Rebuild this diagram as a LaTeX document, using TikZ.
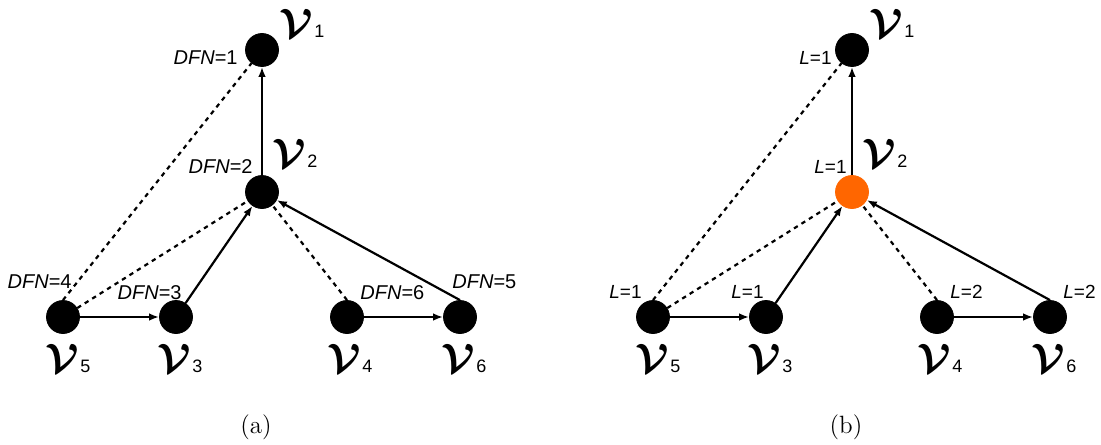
\documentclass[tikz,border=0pt]{standalone}
\usepackage{fontspec}
\usepackage{amsmath}
\setsansfont{Liberation Sans}
\usetikzlibrary{arrows.meta}
\definecolor{visited}{HTML}{FF6600}
\newcommand{\vname}[1]{\scalebox{2.05}{$\boldsymbol{\mathcal{V}}$}\hspace{0.6pt}{\sffamily\fontsize{9}{10}\selectfont #1}}
\newcommand{\vcol}{black}
\begin{document}
\begin{tikzpicture}[x=0.5pt, y=-0.5pt]
    \tikzstyle{every node}=[inner sep=0pt]
    \tikzstyle{vertex}=[circle, fill=black, draw=black!60, line width=0.4pt, minimum size=16.5pt]
    \tikzstyle{arc}=[-{Latex[length=5pt,width=3.8pt]}, line width=1.1pt]
    \tikzstyle{back}=[line width=1.1pt, dash pattern=on 2.2pt off 2.2pt]
    \tikzstyle{dfn}=[font=\sffamily\fontsize{10}{10}\selectfont]
    \tikzstyle{lvl}=[font=\sffamily\fontsize{9.5}{10}\selectfont]
    \useasboundingbox (0,0) rectangle (1101,444);
    \foreach \p/\dx/\vcol in {a/0/black, b/590/visited} {
      \begin{scope}[shift={(\dx,0)}]
        \foreach \n/\x/\y/\lx/\ly/\c in {1/262/50/279/38/black, 2/262/192/272/167/\vcol, 3/176/317/157/372/black,
            4/347/317/327/372/black, 5/63/317/45/372/black, 6/460/317/441/372/black} {
          \node[vertex, fill=\c, draw=\c] (\p\n) at (\x,\y) {};
          \node[anchor=base west] (\p n\n) at (\lx,\ly) {\vname{\n}};
        }
        \draw[arc] (\p2) -- (\p1);
        \draw[arc] (\p3) -- (\p2);
        \draw[arc] (\p6.north) -- (\p2);
        \draw[arc] (\p5) -- (\p3);
        \draw[arc] (\p4) -- (\p6);
        \draw[back] (\p5.north) -- (\p1);
        \draw[back] (\p5) -- (\p2);
        \draw[back] (\p4.north) -- (\p2);
      \end{scope}
    }
    \node[dfn, anchor=base east] (da1) at (238,65) {\textit{DFN}=1};
    \node[dfn, anchor=base east] (da2) at (253,173) {\textit{DFN}=2};
    \node[dfn, anchor=base east] (da3) at (182,299) {\textit{DFN}=3};
    \node[dfn, anchor=base east] (da4) at (72,288) {\textit{DFN}=4};
    \node[dfn, anchor=base west] (da5) at (452,288) {\textit{DFN}=5};
    \node[dfn, anchor=base west] (da6) at (360,299) {\textit{DFN}=6};
    \node[lvl, anchor=base east] (lb1) at (832,65) {\textit{L}=1};
    \node[lvl, anchor=base east] (lb2) at (847,173) {\textit{L}=1};
    \node[lvl, anchor=base east] (lb3) at (764,298) {\textit{L}=1};
    \node[lvl, anchor=base east] (lb5) at (642,298) {\textit{L}=1};
    \node[lvl, anchor=base west] (lb4) at (950,298) {\textit{L}=2};
    \node[lvl, anchor=base west] (lb6) at (1063,298) {\textit{L}=2};
    \node[font=\fontsize{12.5}{14}\selectfont] (capa) at (256,427) {(a)};
    \node[font=\fontsize{12.5}{14}\selectfont] (capb) at (846,427) {(b)};
\end{tikzpicture}
\end{document}
